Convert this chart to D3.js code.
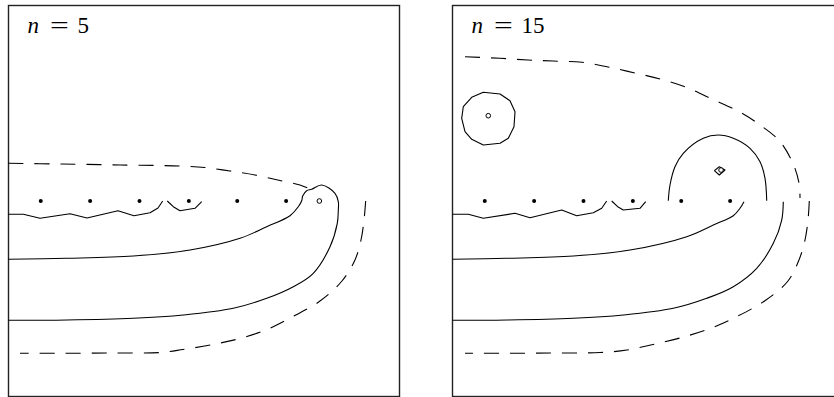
<!DOCTYPE html>
<html>
<head>
<meta charset="utf-8">
<script src="https://cdn.jsdelivr.net/npm/d3@7"></script>
<style>
  html, body { margin: 0; padding: 0; background: #fff; }
  svg { display: block; }
</style>
</head>
<body>
<svg id="chart" width="834" height="397"></svg>
<script>
// Panel labels (number of charges n)
const panelLabels = ["5", "15"];

// Positions of the line charges along the axis y = 0
const chargeX = [0.66, 1.67, 2.68, 3.69, 4.68, 5.68];

// ---- n = 5 contours ----
const n5Wavy = [[0, -0.272], [0.303, -0.272], [0.645, -0.354], [1.258, -0.26], [1.606, -0.348],
  [2.24, -0.198], [2.568, -0.301], [2.895, -0.239], [3.059, -0.143], [3.155, 0]];
const n5Arc = [[3.249, 0], [3.372, -0.117], [3.509, -0.198], [3.816, -0.149], [3.953, -0.014]];
const n5Loop = [[0, -1.193], [1.191, -1.172], [2.553, -1.125], [3.714, -1.003], [4.737, -0.763],
  [5.283, -0.526], [5.76, -0.301], [5.929, -0.117], [5.999, 0.006], [6.019, 0.102], [6.101, 0.211],
  [6.204, 0.239], [6.408, 0.327], [6.68, 0.158], [6.748, -0.014], [6.748, -0.184], [6.727, -0.456],
  [6.578, -0.935], [6.236, -1.479], [5.827, -1.753], [5.283, -1.991], [4.6, -2.195], [3.576, -2.332],
  [2.553, -2.4], [1.191, -2.435], [0, -2.441]];
const n5UpperDashed = [[0, 0.771], [1.054, 0.757], [2.281, 0.737], [3.509, 0.716], [4.02, 0.685],
  [4.532, 0.614], [5.043, 0.532], [5.555, 0.419], [5.964, 0.327], [6.21, 0.225]];
const n5LowerDashed = [[7.308, 0], [7.274, -0.389], [7.212, -0.798], [7.089, -1.207], [6.823, -1.637],
  [6.373, -2.047], [5.821, -2.363], [5.289, -2.629], [4.737, -2.813], [4.184, -2.936], [3.57, -3.038],
  [3.1, -3.1], [2.077, -3.11], [1.054, -3.116], [0.235, -3.116]];
const n5Open = [[6.36, 0]];

// ---- n = 15 contours ----
const n15Wavy = [[0, -0.272], [0.323, -0.272], [0.63, -0.354], [1.279, -0.252], [1.586, -0.342],
  [2.234, -0.184], [2.541, -0.301], [2.881, -0.239], [3.053, -0.149], [3.155, 0]];
const n15Arc = [[3.257, 0], [3.38, -0.117], [3.495, -0.184], [3.836, -0.149], [3.953, -0.014]];
const n15Inner = [[0, -1.193], [1.109, -1.172], [2.472, -1.125], [3.632, -1.003], [4.792, -0.73],
  [5.336, -0.491], [5.745, -0.301], [5.882, -0.149], [5.964, -0.014]];
const n15Outer = [[6.768, -0.014], [6.736, -0.389], [6.564, -0.866], [6.224, -1.377], [5.745, -1.753],
  [5.201, -1.991], [4.518, -2.195], [3.495, -2.332], [2.472, -2.4], [1.109, -2.435], [0, -2.441]];
const n15Dome = [[4.415, 0.006], [4.45, 0.327], [4.552, 0.702], [4.722, 0.976], [5.131, 1.283],
  [5.438, 1.35], [5.745, 1.283], [6.087, 1.078], [6.292, 0.804], [6.394, 0.464], [6.429, 0.006]];
const n15Ring = [[0.63, 2.224], [0.972, 2.189], [1.176, 2.052], [1.279, 1.827], [1.258, 1.52],
  [1.142, 1.283], [0.972, 1.181], [0.63, 1.146], [0.393, 1.262], [0.256, 1.418], [0.188, 1.692],
  [0.221, 1.929], [0.393, 2.122], [0.63, 2.224]];
const n15Diamond = [[5.357, 0.62], [5.459, 0.702], [5.575, 0.634], [5.459, 0.532], [5.357, 0.62]];
const n15UpperDashed = [[0.256, 2.952], [0.972, 2.92], [1.545, 2.885], [2.056, 2.864], [2.65, 2.838],
  [3.182, 2.742], [3.734, 2.619], [4.286, 2.486], [4.818, 2.312], [5.33, 2.077], [5.841, 1.841],
  [6.292, 1.555], [6.701, 1.217], [6.967, 0.767], [7.09, 0.368], [7.11, 0.061]];
const n15LowerDashed = [[7.3, 0], [7.274, -0.389], [7.212, -0.798], [7.089, -1.207], [6.864, -1.637],
  [6.414, -2.026], [5.821, -2.363], [5.269, -2.609], [4.655, -2.803], [4.102, -2.936], [3.57, -3.049],
  [3.018, -3.1], [1.995, -3.11], [0.972, -3.116], [0.256, -3.116]];
const n15Open = [[0.732, 1.745], [5.494, 0.634]];

// Assemble the two panels
const panels = [
  {
    label: panelLabels[0], left: 8.5,
    solid: [
      { pts: n5Wavy, smooth: false }, { pts: n5Arc, smooth: false }, { pts: n5Loop, smooth: true }
    ],
    dashed: [n5UpperDashed, n5LowerDashed],
    open: n5Open
  },
  {
    label: panelLabels[1], left: 452.5,
    solid: [
      { pts: n15Wavy, smooth: false }, { pts: n15Arc, smooth: false },
      { pts: n15Inner, smooth: true }, { pts: n15Outer, smooth: true },
      { pts: n15Dome, smooth: true }, { pts: n15Ring, smooth: false },
      { pts: n15Diamond, smooth: false }
    ],
    dashed: [n15UpperDashed, n15LowerDashed],
    open: n15Open
  }
];

const boxSize = 391;
const panelTop = 5.5;
const x = d3.scaleLinear().domain([0, 8]).range([0, boxSize]);
const y = d3.scaleLinear().domain([4, -4]).range([0, boxSize]);

const lineSmooth = d3.line().x(d => x(d[0])).y(d => y(d[1])).curve(d3.curveCatmullRom.alpha(0.5));
const lineSharp = d3.line().x(d => x(d[0])).y(d => y(d[1])).curve(d3.curveLinear);

const svg = d3.select("#chart");

panels.forEach(p => {
  const g = svg.append("g").attr("transform", `translate(${p.left},${panelTop})`);

  g.append("rect")
    .attr("x", 0).attr("y", 0)
    .attr("width", boxSize).attr("height", boxSize)
    .attr("fill", "none").attr("stroke", "#222").attr("stroke-width", 1.4);

  g.selectAll("path.solid").data(p.solid).join("path")
    .attr("class", "solid")
    .attr("d", d => (d.smooth ? lineSmooth : lineSharp)(d.pts))
    .attr("fill", "none").attr("stroke", "#000").attr("stroke-width", 1.1)
    .attr("stroke-linejoin", "round");

  g.selectAll("path.dashed").data(p.dashed).join("path")
    .attr("class", "dashed")
    .attr("d", d => lineSmooth(d))
    .attr("fill", "none").attr("stroke", "#000").attr("stroke-width", 1.1)
    .attr("stroke-dasharray", "15 11");

  g.selectAll("circle.charge").data(chargeX).join("circle")
    .attr("class", "charge")
    .attr("cx", d => x(d)).attr("cy", y(0)).attr("r", 2)
    .attr("fill", "#000");

  g.selectAll("circle.open").data(p.open).join("circle")
    .attr("class", "open")
    .attr("cx", d => x(d[0])).attr("cy", d => y(d[1])).attr("r", 2.3)
    .attr("fill", "#fff").attr("stroke", "#000").attr("stroke-width", 1);

  const lab = g.append("g").attr("transform", "translate(0,27.5)")
    .attr("font-family", "'Liberation Serif', 'DejaVu Serif', serif")
    .attr("font-size", 23).attr("fill", "#000");
  lab.append("text").attr("x", 19).attr("font-style", "italic").text("n");
  lab.append("text").attr("transform", "translate(41.5,0) scale(1.45,1)").text("=");
  lab.append("text").attr("x", 69).text(p.label);
});
</script>
</body>
</html>
